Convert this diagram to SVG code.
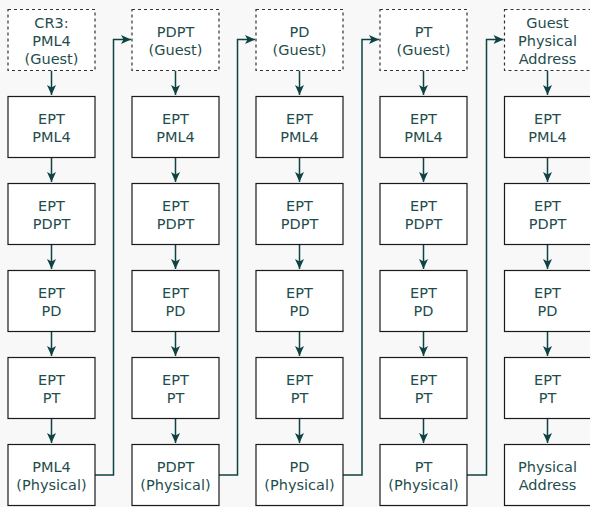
<svg xmlns="http://www.w3.org/2000/svg" width="590" height="507" viewBox="0 0 590 507">
<style>
.bg{fill:#f8f8f8}
.b{fill:#ffffff;stroke:#1a1a1a;stroke-width:1.2}
.d{fill:#ffffff;stroke:#333333;stroke-width:1.2;stroke-dasharray:3,3}
text{font-family:"DejaVu Sans",sans-serif;font-size:14.5px;fill:#1f4d4d;text-anchor:middle}
.c{fill:none;stroke:#0f4242;stroke-width:1.5}
</style>
<defs>
<marker id="ah" markerUnits="userSpaceOnUse" markerWidth="12" markerHeight="12" viewBox="0 0 12 12" refX="11" refY="6" orient="auto">
<path d="M1,1.5 L11,6 L1,10.5 L3.5,6 Z" fill="#0f4242"/>
</marker>
</defs>
<rect class="bg" x="0" y="0" width="590" height="507"/>
<g id="connectors">
<path class="c" d="M51.5,70.5V95" marker-end="url(#ah)"/>
<path class="c" d="M51.5,157.5V182" marker-end="url(#ah)"/>
<path class="c" d="M51.5,244.5V269" marker-end="url(#ah)"/>
<path class="c" d="M51.5,331.5V356" marker-end="url(#ah)"/>
<path class="c" d="M51.5,418.5V443" marker-end="url(#ah)"/>
<path class="c" d="M175.5,70.5V95" marker-end="url(#ah)"/>
<path class="c" d="M175.5,157.5V182" marker-end="url(#ah)"/>
<path class="c" d="M175.5,244.5V269" marker-end="url(#ah)"/>
<path class="c" d="M175.5,331.5V356" marker-end="url(#ah)"/>
<path class="c" d="M175.5,418.5V443" marker-end="url(#ah)"/>
<path class="c" d="M299.5,70.5V95" marker-end="url(#ah)"/>
<path class="c" d="M299.5,157.5V182" marker-end="url(#ah)"/>
<path class="c" d="M299.5,244.5V269" marker-end="url(#ah)"/>
<path class="c" d="M299.5,331.5V356" marker-end="url(#ah)"/>
<path class="c" d="M299.5,418.5V443" marker-end="url(#ah)"/>
<path class="c" d="M423.5,70.5V95" marker-end="url(#ah)"/>
<path class="c" d="M423.5,157.5V182" marker-end="url(#ah)"/>
<path class="c" d="M423.5,244.5V269" marker-end="url(#ah)"/>
<path class="c" d="M423.5,331.5V356" marker-end="url(#ah)"/>
<path class="c" d="M423.5,418.5V443" marker-end="url(#ah)"/>
<path class="c" d="M547.5,70.5V95" marker-end="url(#ah)"/>
<path class="c" d="M547.5,157.5V182" marker-end="url(#ah)"/>
<path class="c" d="M547.5,244.5V269" marker-end="url(#ah)"/>
<path class="c" d="M547.5,331.5V356" marker-end="url(#ah)"/>
<path class="c" d="M547.5,418.5V443" marker-end="url(#ah)"/>
<path class="c" d="M95,475H113.5V39.5H131" marker-end="url(#ah)"/>
<path class="c" d="M219,475H237.5V39.5H255" marker-end="url(#ah)"/>
<path class="c" d="M343,475H362V39.5H379" marker-end="url(#ah)"/>
<path class="c" d="M467,475H486.5V39.5H503.5" marker-end="url(#ah)"/>
</g>
<g id="cr3-pml4-guest"><rect class="d" x="8" y="9.5" width="87" height="61"/><text x="51.5" y="28.3">CR3:</text><text x="51.5" y="46">PML4</text><text x="51.5" y="63.5">(Guest)</text></g>
<g id="c1-ept-pml4"><rect class="b" x="8" y="96.5" width="87" height="61"/><text x="51.5" y="123.5">EPT</text><text x="51.5" y="141.5">PML4</text></g>
<g id="c1-ept-pdpt"><rect class="b" x="8" y="183.5" width="87" height="61"/><text x="51.5" y="210.5">EPT</text><text x="51.5" y="228.5">PDPT</text></g>
<g id="c1-ept-pd"><rect class="b" x="8" y="270.5" width="87" height="61"/><text x="51.5" y="297.5">EPT</text><text x="51.5" y="315.5">PD</text></g>
<g id="c1-ept-pt"><rect class="b" x="8" y="357.5" width="87" height="61"/><text x="51.5" y="384.5">EPT</text><text x="51.5" y="402.5">PT</text></g>
<g id="pml4-physical"><rect class="b" x="8" y="444.5" width="87" height="61"/><text x="51.5" y="471.5">PML4</text><text x="51.5" y="489.5">(Physical)</text></g>
<g id="pdpt-guest"><rect class="d" x="132" y="9.5" width="87" height="61"/><text x="175.5" y="36.8">PDPT</text><text x="175.5" y="54.5">(Guest)</text></g>
<g id="c2-ept-pml4"><rect class="b" x="132" y="96.5" width="87" height="61"/><text x="175.5" y="123.5">EPT</text><text x="175.5" y="141.5">PML4</text></g>
<g id="c2-ept-pdpt"><rect class="b" x="132" y="183.5" width="87" height="61"/><text x="175.5" y="210.5">EPT</text><text x="175.5" y="228.5">PDPT</text></g>
<g id="c2-ept-pd"><rect class="b" x="132" y="270.5" width="87" height="61"/><text x="175.5" y="297.5">EPT</text><text x="175.5" y="315.5">PD</text></g>
<g id="c2-ept-pt"><rect class="b" x="132" y="357.5" width="87" height="61"/><text x="175.5" y="384.5">EPT</text><text x="175.5" y="402.5">PT</text></g>
<g id="pdpt-physical"><rect class="b" x="132" y="444.5" width="87" height="61"/><text x="175.5" y="471.5">PDPT</text><text x="175.5" y="489.5">(Physical)</text></g>
<g id="pd-guest"><rect class="d" x="256" y="9.5" width="87" height="61"/><text x="299.5" y="36.8">PD</text><text x="299.5" y="54.5">(Guest)</text></g>
<g id="c3-ept-pml4"><rect class="b" x="256" y="96.5" width="87" height="61"/><text x="299.5" y="123.5">EPT</text><text x="299.5" y="141.5">PML4</text></g>
<g id="c3-ept-pdpt"><rect class="b" x="256" y="183.5" width="87" height="61"/><text x="299.5" y="210.5">EPT</text><text x="299.5" y="228.5">PDPT</text></g>
<g id="c3-ept-pd"><rect class="b" x="256" y="270.5" width="87" height="61"/><text x="299.5" y="297.5">EPT</text><text x="299.5" y="315.5">PD</text></g>
<g id="c3-ept-pt"><rect class="b" x="256" y="357.5" width="87" height="61"/><text x="299.5" y="384.5">EPT</text><text x="299.5" y="402.5">PT</text></g>
<g id="pd-physical"><rect class="b" x="256" y="444.5" width="87" height="61"/><text x="299.5" y="471.5">PD</text><text x="299.5" y="489.5">(Physical)</text></g>
<g id="pt-guest"><rect class="d" x="380" y="9.5" width="87" height="61"/><text x="423.5" y="36.8">PT</text><text x="423.5" y="54.5">(Guest)</text></g>
<g id="c4-ept-pml4"><rect class="b" x="380" y="96.5" width="87" height="61"/><text x="423.5" y="123.5">EPT</text><text x="423.5" y="141.5">PML4</text></g>
<g id="c4-ept-pdpt"><rect class="b" x="380" y="183.5" width="87" height="61"/><text x="423.5" y="210.5">EPT</text><text x="423.5" y="228.5">PDPT</text></g>
<g id="c4-ept-pd"><rect class="b" x="380" y="270.5" width="87" height="61"/><text x="423.5" y="297.5">EPT</text><text x="423.5" y="315.5">PD</text></g>
<g id="c4-ept-pt"><rect class="b" x="380" y="357.5" width="87" height="61"/><text x="423.5" y="384.5">EPT</text><text x="423.5" y="402.5">PT</text></g>
<g id="pt-physical"><rect class="b" x="380" y="444.5" width="87" height="61"/><text x="423.5" y="471.5">PT</text><text x="423.5" y="489.5">(Physical)</text></g>
<g id="guest-physical-address"><rect class="d" x="504.5" y="9.5" width="87" height="61"/><text x="547.5" y="28.3">Guest</text><text x="547.5" y="46">Physical</text><text x="547.5" y="63.5">Address</text></g>
<g id="c5-ept-pml4"><rect class="b" x="504.5" y="96.5" width="87" height="61"/><text x="547.5" y="123.5">EPT</text><text x="547.5" y="141.5">PML4</text></g>
<g id="c5-ept-pdpt"><rect class="b" x="504.5" y="183.5" width="87" height="61"/><text x="547.5" y="210.5">EPT</text><text x="547.5" y="228.5">PDPT</text></g>
<g id="c5-ept-pd"><rect class="b" x="504.5" y="270.5" width="87" height="61"/><text x="547.5" y="297.5">EPT</text><text x="547.5" y="315.5">PD</text></g>
<g id="c5-ept-pt"><rect class="b" x="504.5" y="357.5" width="87" height="61"/><text x="547.5" y="384.5">EPT</text><text x="547.5" y="402.5">PT</text></g>
<g id="physical-address"><rect class="b" x="504.5" y="444.5" width="87" height="61"/><text x="547.5" y="471.5">Physical</text><text x="547.5" y="489.5">Address</text></g>
</svg>
